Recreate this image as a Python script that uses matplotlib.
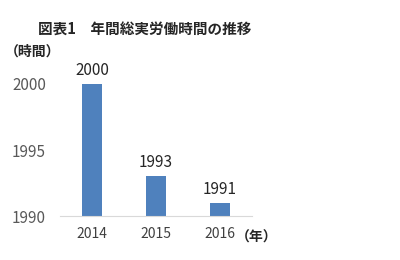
import matplotlib
matplotlib.use("Agg")
import matplotlib.pyplot as plt

years = ["2014", "2015", "2016"]
hours = [2000, 1993, 1991]
yticks = [1990, 1995, 2000]

plt.rcParams['font.family'] = ['Noto Sans CJK JP', 'DejaVu Sans']

fig = plt.figure(figsize=(4, 2.6), dpi=100)
ax = fig.add_axes([0.15, 0.169, 0.48, 0.508])
x = list(range(len(years)))
ax.bar(x, hours, width=0.3, color='#4f81bd', bottom=0, zorder=2)
ax.set_xlim(-0.5, 2.5)
ax.set_ylim(1990, 2000)
ax.set_yticks(yticks)
ax.set_yticklabels([str(v) for v in yticks], fontsize=11, color='#595959')
ax.set_xticks(x)
ax.set_xticklabels(years, fontsize=10, color='#404040')
ax.tick_params(axis='both', length=0)
ax.tick_params(axis='y', pad=10)
ax.tick_params(axis='x', pad=8)
for s in ['top', 'right', 'left']:
    ax.spines[s].set_visible(False)
ax.spines['bottom'].set_color('#d9d9d9')
for xi, v in zip(x, hours):
    ax.text(xi, v + 0.4, str(v), ha='center', va='bottom', fontsize=11,
            color='#262626', clip_on=False)

fig.text(0.095, 0.89, '図表1　年間総実労働時間の推移', fontsize=10.5,
         fontweight='bold', color='#262626', va='center')
fig.text(0.012, 0.80, '（時間）', fontsize=10, fontweight='bold',
         color='#262626', va='center')
fig.text(0.59, 0.088, '（年）', fontsize=10, fontweight='bold',
         color='#262626', va='center')

fig.savefig('out.png', dpi=100)
